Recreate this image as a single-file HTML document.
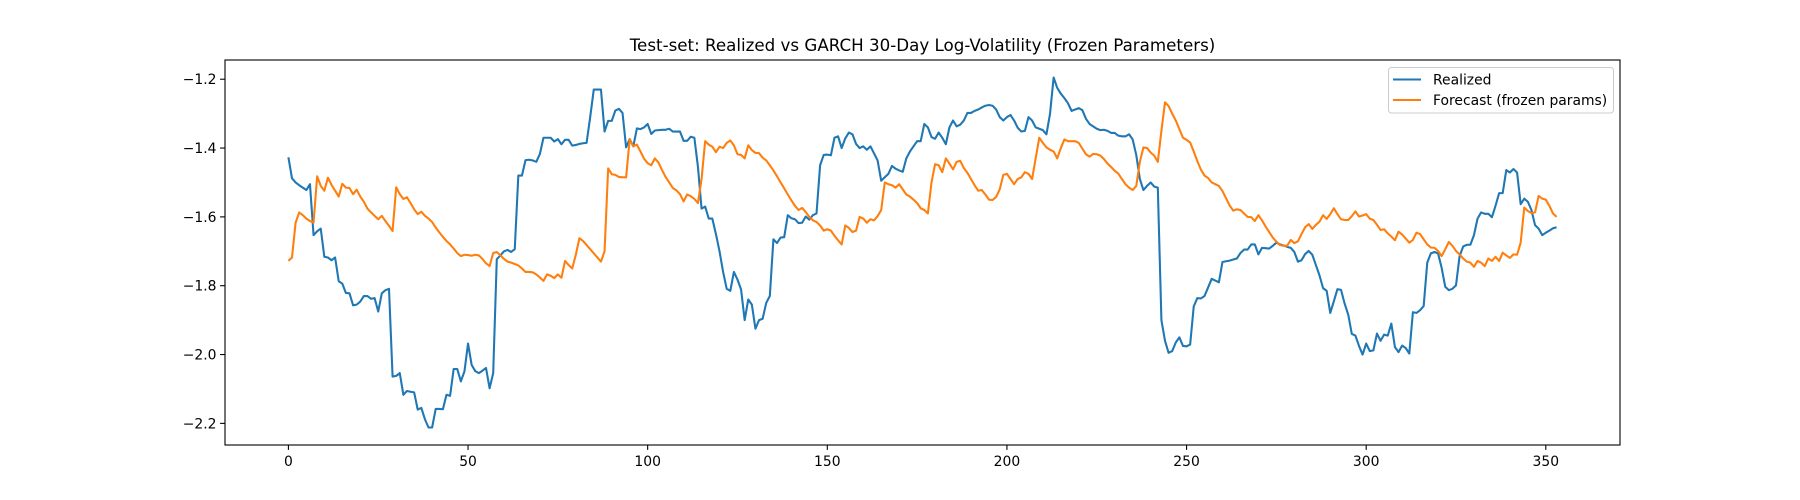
<!DOCTYPE html>
<html><head><meta charset="utf-8">
<style>
html,body{margin:0;padding:0;background:#fff;}
svg{display:block;font-family:"DejaVu Sans","Liberation Sans",sans-serif;}
</style></head>
<body>
<svg id="chart" width="1800" height="500" viewBox="0 0 1800 500" xmlns="http://www.w3.org/2000/svg">
<rect x="0" y="0" width="1800" height="500" fill="#fff"/>
<text x="922.5" y="51" text-anchor="middle" font-size="16.7" fill="#000">Test-set: Realized vs GARCH 30-Day Log-Volatility (Frozen Parameters)</text>
<g id="plot"></g>
</svg>
<script>
const xTicks = [0, 50, 100, 150, 200, 250, 300, 350];
const yTicks = [-1.2, -1.4, -1.6, -1.8, -2.0, -2.2];
const yTickLabels = ["\u22121.2", "\u22121.4", "\u22121.6", "\u22121.8", "\u22122.0", "\u22122.2"];
const seriesNames = ["Realized", "Forecast (frozen params)"];
const realized = [
-1.427,-1.488,-1.500,-1.508,-1.515,-1.522,-1.505,-1.653,-1.642,-1.634,
-1.716,-1.718,-1.726,-1.718,-1.787,-1.794,-1.821,-1.822,-1.857,-1.855,
-1.846,-1.830,-1.830,-1.838,-1.836,-1.875,-1.822,-1.813,-1.809,-2.064,
-2.062,-2.054,-2.117,-2.106,-2.108,-2.110,-2.160,-2.155,-2.188,-2.212,
-2.212,-2.158,-2.158,-2.159,-2.117,-2.120,-2.042,-2.042,-2.078,-2.049,
-1.968,-2.030,-2.048,-2.054,-2.047,-2.039,-2.098,-2.054,-1.723,-1.712,
-1.700,-1.696,-1.702,-1.694,-1.480,-1.480,-1.435,-1.434,-1.436,-1.440,
-1.417,-1.370,-1.370,-1.370,-1.381,-1.374,-1.389,-1.376,-1.376,-1.393,
-1.391,-1.388,-1.386,-1.385,-1.310,-1.230,-1.230,-1.230,-1.352,-1.321,
-1.321,-1.291,-1.286,-1.298,-1.398,-1.374,-1.395,-1.343,-1.345,-1.340,
-1.330,-1.359,-1.349,-1.348,-1.347,-1.347,-1.344,-1.352,-1.352,-1.352,
-1.379,-1.379,-1.367,-1.370,-1.455,-1.576,-1.570,-1.605,-1.605,-1.650,
-1.700,-1.760,-1.809,-1.815,-1.760,-1.782,-1.811,-1.900,-1.840,-1.855,
-1.925,-1.900,-1.896,-1.850,-1.830,-1.665,-1.676,-1.660,-1.659,-1.595,
-1.604,-1.607,-1.618,-1.617,-1.599,-1.608,-1.595,-1.590,-1.450,-1.420,
-1.419,-1.421,-1.370,-1.366,-1.400,-1.372,-1.355,-1.360,-1.388,-1.400,
-1.395,-1.405,-1.395,-1.415,-1.436,-1.495,-1.485,-1.475,-1.452,-1.460,
-1.465,-1.469,-1.430,-1.410,-1.395,-1.380,-1.380,-1.330,-1.340,-1.368,
-1.373,-1.355,-1.370,-1.389,-1.340,-1.320,-1.337,-1.332,-1.320,-1.298,
-1.298,-1.292,-1.288,-1.282,-1.277,-1.275,-1.277,-1.288,-1.310,-1.320,
-1.310,-1.304,-1.320,-1.341,-1.352,-1.350,-1.310,-1.320,-1.340,-1.344,
-1.348,-1.360,-1.300,-1.195,-1.225,-1.242,-1.255,-1.270,-1.292,-1.288,
-1.284,-1.290,-1.315,-1.330,-1.337,-1.344,-1.348,-1.347,-1.350,-1.356,
-1.356,-1.364,-1.366,-1.366,-1.360,-1.375,-1.420,-1.490,-1.522,-1.510,
-1.500,-1.512,-1.515,-1.900,-1.960,-1.995,-1.990,-1.965,-1.950,-1.975,
-1.976,-1.971,-1.860,-1.836,-1.837,-1.830,-1.805,-1.780,-1.785,-1.790,
-1.731,-1.729,-1.727,-1.724,-1.721,-1.705,-1.695,-1.695,-1.680,-1.680,
-1.709,-1.690,-1.691,-1.692,-1.684,-1.675,-1.680,-1.683,-1.687,-1.690,
-1.702,-1.730,-1.726,-1.708,-1.699,-1.710,-1.740,-1.770,-1.807,-1.815,
-1.879,-1.845,-1.810,-1.812,-1.852,-1.884,-1.940,-1.945,-1.975,-2.000,
-1.968,-1.990,-1.988,-1.939,-1.960,-1.942,-1.945,-1.910,-1.978,-1.993,
-1.974,-1.981,-1.997,-1.877,-1.879,-1.871,-1.859,-1.733,-1.706,-1.702,
-1.706,-1.748,-1.803,-1.813,-1.809,-1.799,-1.714,-1.686,-1.681,-1.681,
-1.653,-1.605,-1.587,-1.591,-1.591,-1.601,-1.568,-1.531,-1.531,-1.464,
-1.471,-1.461,-1.471,-1.563,-1.547,-1.556,-1.580,-1.624,-1.634,-1.653,
-1.646,-1.640,-1.633,-1.630
];
const forecast = [
-1.728,-1.718,-1.617,-1.587,-1.595,-1.605,-1.612,-1.617,-1.482,-1.510,
-1.524,-1.486,-1.507,-1.524,-1.541,-1.504,-1.515,-1.516,-1.534,-1.521,
-1.541,-1.556,-1.576,-1.587,-1.597,-1.607,-1.597,-1.612,-1.626,-1.641,
-1.514,-1.534,-1.548,-1.543,-1.560,-1.578,-1.592,-1.585,-1.597,-1.605,
-1.615,-1.631,-1.645,-1.658,-1.670,-1.680,-1.692,-1.705,-1.714,-1.710,
-1.711,-1.713,-1.710,-1.712,-1.722,-1.735,-1.743,-1.705,-1.702,-1.712,
-1.722,-1.730,-1.733,-1.737,-1.741,-1.750,-1.760,-1.760,-1.761,-1.767,
-1.776,-1.786,-1.767,-1.771,-1.778,-1.767,-1.777,-1.728,-1.740,-1.750,
-1.710,-1.662,-1.670,-1.682,-1.694,-1.706,-1.718,-1.730,-1.700,-1.459,
-1.476,-1.478,-1.484,-1.485,-1.485,-1.374,-1.395,-1.390,-1.410,-1.431,
-1.444,-1.450,-1.430,-1.442,-1.464,-1.484,-1.500,-1.516,-1.523,-1.534,
-1.555,-1.535,-1.540,-1.548,-1.560,-1.490,-1.380,-1.390,-1.396,-1.412,
-1.396,-1.400,-1.385,-1.378,-1.392,-1.418,-1.420,-1.430,-1.392,-1.406,
-1.414,-1.415,-1.428,-1.436,-1.450,-1.465,-1.482,-1.500,-1.517,-1.535,
-1.552,-1.568,-1.580,-1.574,-1.586,-1.600,-1.610,-1.615,-1.625,-1.640,
-1.636,-1.640,-1.655,-1.668,-1.680,-1.625,-1.632,-1.644,-1.640,-1.600,
-1.605,-1.617,-1.607,-1.610,-1.598,-1.580,-1.500,-1.505,-1.508,-1.515,
-1.505,-1.520,-1.535,-1.541,-1.550,-1.560,-1.575,-1.580,-1.590,-1.500,
-1.447,-1.450,-1.470,-1.430,-1.445,-1.462,-1.440,-1.437,-1.458,-1.472,
-1.490,-1.508,-1.524,-1.522,-1.535,-1.550,-1.551,-1.542,-1.520,-1.478,
-1.475,-1.490,-1.505,-1.490,-1.485,-1.470,-1.475,-1.490,-1.430,-1.370,
-1.385,-1.398,-1.405,-1.410,-1.430,-1.400,-1.375,-1.380,-1.380,-1.380,
-1.385,-1.402,-1.418,-1.425,-1.417,-1.418,-1.422,-1.432,-1.445,-1.455,
-1.466,-1.474,-1.490,-1.505,-1.515,-1.522,-1.510,-1.440,-1.398,-1.400,
-1.413,-1.422,-1.440,-1.350,-1.267,-1.278,-1.300,-1.320,-1.345,-1.370,
-1.376,-1.384,-1.410,-1.438,-1.463,-1.480,-1.487,-1.500,-1.505,-1.510,
-1.525,-1.546,-1.567,-1.582,-1.578,-1.580,-1.590,-1.600,-1.601,-1.612,
-1.595,-1.610,-1.628,-1.644,-1.660,-1.672,-1.682,-1.684,-1.684,-1.667,
-1.676,-1.671,-1.650,-1.630,-1.621,-1.635,-1.623,-1.614,-1.595,-1.606,
-1.592,-1.575,-1.592,-1.607,-1.609,-1.609,-1.598,-1.584,-1.599,-1.596,
-1.592,-1.605,-1.609,-1.623,-1.638,-1.636,-1.648,-1.657,-1.668,-1.643,
-1.651,-1.663,-1.675,-1.667,-1.646,-1.650,-1.665,-1.680,-1.689,-1.690,
-1.699,-1.714,-1.694,-1.673,-1.684,-1.699,-1.709,-1.721,-1.730,-1.733,
-1.745,-1.728,-1.733,-1.743,-1.721,-1.728,-1.716,-1.728,-1.704,-1.712,
-1.719,-1.709,-1.710,-1.675,-1.573,-1.583,-1.589,-1.587,-1.539,-1.547,
-1.550,-1.568,-1.590,-1.600
];

const NS = "http://www.w3.org/2000/svg";
const plot = document.getElementById('plot');
const L = 225, R = 1620, T = 60, B = 445;
const nPts = Math.max(realized.length, forecast.length);
const xPad = (nPts - 1) * 0.05;
const xMin = -xPad, xMax = (nPts - 1) + xPad;
const allVals = realized.concat(forecast);
const vMin = Math.min.apply(null, allVals), vMax = Math.max.apply(null, allVals);
const yPad = (vMax - vMin) * 0.05;
const yMin = vMin - yPad, yMax = vMax + yPad;
function xScale(v) { return L + (v - xMin) / (xMax - xMin) * (R - L); }
function yScale(v) { return B - (v - yMin) / (yMax - yMin) * (B - T); }
function mk(tag, attrs, parent) {
  const e = document.createElementNS(NS, tag);
  for (const k in attrs) e.setAttribute(k, attrs[k]);
  (parent || plot).appendChild(e);
  return e;
}
function linePath(vals) {
  return vals.map((v, i) => (i ? 'L' : 'M') + xScale(i).toFixed(2) + ',' + yScale(v).toFixed(2)).join(' ');
}
// series
const clip = mk('clipPath', {id: 'clipA'});
mk('rect', {x: L, y: T, width: R - L, height: B - T}, clip);
const p1 = mk('path', {d: linePath(realized), fill: 'none', stroke: '#1f77b4', 'stroke-width': 2.08, 'stroke-linejoin': 'round', 'clip-path': 'url(#clipA)'});


const p2 = mk('path', {d: linePath(forecast), fill: 'none', stroke: '#ff7f0e', 'stroke-width': 2.08, 'stroke-linejoin': 'round', 'clip-path': 'url(#clipA)'});


// axes frame
const frame = mk('rect', {x: L, y: T, width: R - L, height: B - T, fill: 'none', stroke: '#000', 'stroke-width': 1.1});


// x ticks
xTicks.forEach(t => {
  const x = xScale(t);
  const tk = mk('line', {x1: x, y1: B, x2: x, y2: B + 4.9, stroke: '#000', 'stroke-width': 1.1});
  
  
  const tx = mk('text', {x: x, y: B + 21, 'text-anchor': 'middle', 'font-size': 13.9, fill: '#000'});
  tx.textContent = String(t);
  
  
});
// y ticks
yTicks.forEach((t, i) => {
  const y = yScale(t);
  const tk = mk('line', {x1: L - 4.9, y1: y, x2: L, y2: y, stroke: '#000', 'stroke-width': 1.1});
  
  
  const tx = mk('text', {x: L - 8.5, y: y + 5, 'text-anchor': 'end', 'font-size': 13.9, fill: '#000'});
  tx.textContent = yTickLabels[i];
  
  
});
// legend
const lg = mk('g', {});


mk('rect', {x: 1388.5, y: 67.5, width: 225, height: 45.5, rx: 3, fill: '#fff', 'fill-opacity': 0.8, stroke: '#ccc', 'stroke-width': 1}, lg);
const colors = ['#1f77b4', '#ff7f0e'];
seriesNames.forEach((nm, i) => {
  const y = 79.5 + i * 20.5;
  const ln = mk('line', {x1: 1393, y1: y, x2: 1421, y2: y, stroke: colors[i], 'stroke-width': 2.08}, lg);
  
  
  const tx = mk('text', {x: 1433, y: y + 5, 'font-size': 13.9, fill: '#000'}, lg);
  tx.textContent = nm;
  
  
});
</script>
</body></html>
